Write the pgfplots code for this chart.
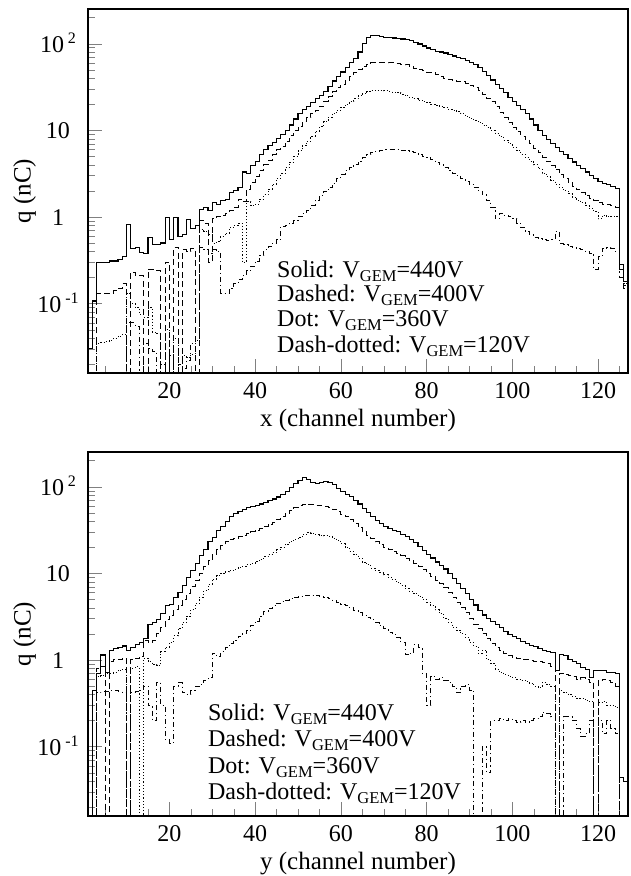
\documentclass[border=0pt]{standalone}
\usepackage{fontspec}
\setmainfont{Liberation Serif}
\usepackage{pgfplots}
\usepackage{pgfplotstable}
\pgfplotsset{compat=1.18}

\newcommand{\gem}{\raisebox{-4pt}{\fontsize{16.5}{16.5}\selectfont GEM}}
\newcommand{\rootsup}[1]{\,\raisebox{0.75ex}{\fontsize{16}{16}\selectfont #1}}
\newcommand{\legfont}{\fontsize{24}{24}\selectfont}

\pgfplotstableread{
x s d p dd
1 0.001 0.001 0.001 0.001
1 0.03 0.001 0.001 0.001
2 0.107 0.001 0.001 0.001
3 0.30 0.13 0.035 0.001
4 0.30 0.13 0.036 0.001
5 0.30 0.13 0.037 0.001
6 0.31 0.13 0.038 0.001
7 0.31 0.14 0.040 0.001
8 0.32 0.15 0.042 0.001
9 0.35 0.17 0.044 0.001
10 0.81 0.001 0.13 0.06
11 0.43 0.23 0.10 0.06
12 0.44 0.21 0.09 0.055
13 0.39 0.21 0.075 0.001
14 0.38 0.001 0.07 0.035
15 0.58 0.25 0.09 0.03
16 0.48 0.25 0.047 0.028
17 0.48 0.24 0.045 0.001
18 0.50 0.001 0.001 0.02
19 0.98 0.30 0.05 0.001
20 0.55 0.001 0.001 0.025
21 0.98 0.45 0.04 0.001
22 0.60 0.001 0.001 0.02
23 0.63 0.42 0.025 0.018
24 0.93 0.40 0.024 0.022
25 0.74 0.43 0.026 0.035
26 0.80 0.001 0.038 0.04
27 1.22 0.90 0.72 0.45
28 1.30 0.85 0.68 0.42
29 1.20 0.30 0.62 0.38
30 1.45 0.95 0.50 0.42
31 1.40 1.00 0.52 0.40
32 1.55 1.05 0.60 0.13
33 1.60 1.10 0.65 0.13
34 1.90 1.20 0.75 0.15
35 2.00 1.30 0.80 0.17
36 2.20 1.60 0.85 0.19
37 3.30 1.50 0.30 0.21
38 3.20 2.10 1.50 0.24
39 3.90 2.50 1.35 0.27
40 4.40 2.90 1.40 0.31
41 5.20 3.40 1.60 0.36
42 6.00 4.00 1.80 0.42
43 6.60 4.50 2.10 0.46
44 7.20 5.20 2.40 0.50
45 8.00 6.00 2.80 0.55
46 8.90 6.50 3.20 0.78
47 10.0 7.50 3.70 0.80
48 11.5 8.70 4.30 0.85
49 13.5 10.0 5.00 0.92
50 15.5 11.0 5.80 1.00
51 17.5 12.5 6.60 1.10
52 19.0 14.0 7.50 1.20
53 21.0 15.5 8.60 1.35
54 23.0 17.0 9.80 1.55
55 25.0 19.0 11.0 1.75
56 28.0 21.5 12.5 1.95
57 32.0 24.5 14.0 2.20
58 37.0 28.0 15.5 2.45
59 42.0 31.0 17.0 2.75
60 47.0 34.0 18.5 3.10
61 53.0 38.0 20.0 3.40
62 60.0 42.0 21.5 3.70
63 67.0 47.0 23.0 4.00
64 80.0 51.0 25.0 4.40
65 100 55.0 26.5 4.80
66 118 58.0 28.0 5.20
67 123 60.0 28.7 5.50
68 123 61.0 29.0 5.70
69 120 61.0 28.8 5.90
70 118 61.0 28.5 6.00
71 117 60.0 28.0 6.00
72 116 60.0 27.5 6.00
73 114 59.0 27.0 6.00
74 113 58.0 26.0 5.90
75 111 57.0 25.0 5.80
76 108 55.0 24.0 5.70
77 104 52.0 23.0 5.60
78 99 50.0 22.3 5.30
79 94 48.5 21.5 5.00
80 89 47.0 21.0 4.80
81 85 46.0 20.0 4.60
82 82 44.0 19.5 4.30
83 80 42.0 19.0 4.00
84 78 40.0 18.3 3.70
85 75 39.0 17.5 3.40
86 72 38.0 17.0 3.20
87 70 37.0 16.3 3.00
88 67 36.5 15.5 2.80
89 64 35.0 14.6 2.60
90 61 33.0 13.8 2.40
91 57 31.0 13.0 2.20
92 53 29.0 12.3 2.00
93 48 26.0 11.5 1.80
94 43 23.5 10.8 1.55
95 38 21.5 10.0 1.30
96 34 19.0 9.2 0.95
97 30 16.0 8.4 1.10
98 27 14.0 7.7 1.05
99 24 12.3 7.0 1.00
100 21.5 10.8 6.4 0.95
101 19.5 9.6 5.8 0.85
102 17.5 8.6 5.3 0.75
103 15.5 7.8 4.8 0.68
104 13.5 7.0 4.4 0.62
105 11.5 6.2 4.0 0.58
106 10.0 5.5 3.6 0.56
107 8.8 4.9 3.2 0.55
108 7.8 4.4 2.9 0.54
109 7.0 3.9 2.65 0.55
110 6.3 3.5 2.4 0.68
111 5.7 3.1 2.2 0.50
112 5.2 2.8 2.0 0.48
113 4.7 2.5 1.85 0.46
114 4.3 2.25 1.7 0.44
115 3.9 2.05 1.55 0.43
116 3.6 1.9 1.45 0.42
117 3.3 1.75 1.35 0.40
118 3.0 1.65 1.25 0.38
119 2.75 1.55 1.15 0.25
120 2.55 1.45 0.95 0.35
121 2.45 1.40 1.05 0.43
122 2.35 1.38 1.00 0.44
123 2.25 1.35 1.02 0.43
124 2.15 1.30 1.00 0.40
125 0.28 0.25 0.28 0.20
126 0.18 0.15 0.17 0.16
127 0.18 0.15 0.17 0.16
127 0.001 0.001 0.001 0.001
}\topdata

\pgfplotstableread{
x s d p dd
1 0.001 0.001 0.001 0.001
2 0.44 0.001 0.001 0.001
3 0.70 0.80 0.64 0.42
4 1.14 0.85 0.66 0.43
5 0.72 0.001 0.70 0.43
6 1.30 0.95 0.70 0.44
7 1.35 1.00 0.72 0.44
8 1.40 1.02 0.76 0.43
9 1.45 1.05 0.78 0.42
10 1.28 0.001 0.001 0.001
11 1.40 1.00 0.80 0.42
12 1.50 1.05 0.83 0.43
13 1.60 1.10 0.001 0.45
14 1.75 1.70 1.05 0.50
15 2.55 1.60 0.95 0.30
16 2.70 1.70 0.88 0.20
17 2.90 2.00 0.86 0.55
18 3.40 2.40 1.25 0.30
19 4.20 2.90 1.40 0.12
20 4.40 3.30 1.60 0.11
21 5.30 3.80 1.90 0.50
22 6.00 4.30 2.30 0.55
23 7.30 5.00 2.70 0.42
24 9.00 5.80 3.20 0.40
25 10.8 7.00 3.80 0.45
26 13.0 8.30 4.50 0.50
27 16.0 10.0 5.30 0.52
28 19.0 12.0 6.30 0.58
29 23.0 14.0 7.50 0.62
30 26.0 16.5 8.60 1.20
31 31.0 19.0 9.40 1.10
32 35.0 21.0 10.0 1.25
33 40.0 23.0 10.4 1.40
34 45.0 24.5 10.8 1.55
35 49.0 25.5 11.2 1.70
36 52.0 26.5 11.6 1.85
37 55.0 27.5 12.0 2.00
38 57.0 28.5 12.5 2.20
39 59.0 30.0 13.0 2.50
40 61.0 31.5 13.7 2.80
41 63.0 33.0 14.5 3.20
42 66.0 35.0 15.5 3.60
43 69.0 37.0 16.5 3.90
44 72.0 39.0 17.5 4.20
45 76.0 42.0 18.8 4.50
46 82.0 45.0 20.0 4.70
47 88.0 49.0 21.5 4.90
48 97.0 53.0 23.0 5.10
49 108 57.0 24.5 5.30
50 118 60.0 26.0 5.40
51 126 62.0 28.0 5.50
52 120 63.0 29.5 5.60
53 112 62.0 29.0 5.60
54 108 61.0 28.0 5.50
55 112 60.0 27.5 5.40
56 115 59.0 27.0 5.30
57 112 57.0 26.5 5.10
58 105 55.0 25.5 4.90
59 95 52.0 24.0 4.60
60 88 48.0 22.0 4.40
61 82 45.0 20.0 4.20
62 77 42.0 18.0 4.00
63 70 38.0 16.5 3.70
64 63 34.0 15.0 3.50
65 56 30.0 13.5 3.30
66 50 27.0 12.5 3.10
67 45 25.0 11.5 2.90
68 41 23.0 10.8 2.70
69 38 21.5 10.2 2.50
70 35 20.0 9.6 2.30
71 33 19.0 9.0 2.10
72 31.5 18.0 8.4 1.95
73 30 17.0 7.8 1.80
74 28 16.0 7.2 1.60
75 26.5 15.0 6.7 1.15
76 24.5 14.0 6.2 1.20
77 22.5 13.0 5.8 1.50
78 20.5 12.0 5.4 1.40
79 18.5 11.0 5.0 0.70
80 16.5 10.0 4.6 0.30
81 15.0 9.1 4.2 0.65
82 13.5 8.3 3.8 0.60
83 12.2 7.6 3.4 0.62
84 11.2 6.8 3.0 0.58
85 10.0 6.0 2.7 0.55
86 8.8 5.3 2.4 0.50
87 7.6 4.6 2.2 0.42
88 6.6 4.0 2.0 0.50
89 5.8 3.5 1.8 0.52
90 5.0 3.0 1.6 0.45
91 4.3 2.6 1.45 0.001
92 3.7 2.3 1.20 0.001
93 3.3 2.0 1.30 0.10
94 3.0 1.75 1.00 0.05
95 2.75 1.55 0.90 0.20
96 2.55 1.40 0.78 0.20
97 2.35 1.30 0.72 0.21
98 2.15 1.20 0.68 0.20
99 1.95 1.12 0.65 0.21
100 1.85 1.08 0.63 0.20
101 1.75 1.04 0.60 0.19
102 1.65 1.00 0.58 0.20
103 1.55 1.00 0.56 0.19
104 1.48 0.98 0.54 0.20
105 1.42 0.96 0.50 0.21
106 1.36 0.95 0.48 0.22
107 1.30 0.93 0.55 0.25
108 1.26 0.90 0.52 0.24
109 1.22 0.85 0.50 0.22
110 0.75 0.001 0.001 0.20
111 1.15 0.70 0.44 0.001
112 1.12 0.68 0.42 0.22
113 1.00 0.66 0.40 0.22
114 0.95 0.64 0.38 0.20
115 0.90 0.60 0.36 0.16
116 0.82 0.62 0.36 0.13
117 0.78 0.60 0.34 0.14
118 0.62 0.55 0.33 0.20
119 0.76 0.001 0.001 0.001
120 0.76 0.58 0.32 0.20
121 0.76 0.60 0.33 0.14
122 0.72 0.58 0.30 0.20
123 0.72 0.55 0.30 0.16
124 0.70 0.50 0.28 0.14
125 0.044 0.001 0.001 0.001
126 0.040 0.001 0.001 0.001
127 0.040 0.001 0.001 0.001
127 0.001 0.001 0.001 0.001
}\botdata

\pgfplotsset{
  every axis/.append style={
    width=540pt, height=364pt, scale only axis,
    xmin=1, xmax=127, ymin=0.0158, ymax=251,
    axis line style={line width=1.8pt},
    major tick length=14pt, minor tick length=7pt,
    tick align=inside,
    xtick pos=bottom, ytick pos=left,
    xtick={20,40,60,80,100,120},
    xticklabels={20,40,60,80,100,120},
    minor xtick={5,10,15,25,30,35,45,50,55,65,70,75,85,90,95,105,110,115,125},
    ytick={0.1,1,10,100},
    yticklabels={10\rootsup{-1},1,10,10\rootsup{2}},
    minor ytick={0.02,0.03,0.04,0.05,0.06,0.07,0.08,0.09,0.2,0.3,0.4,0.5,0.6,0.7,0.8,0.9,2,3,4,5,6,7,8,9,20,30,40,50,60,70,80,90,200},
    xticklabel style={font=\legfont, anchor=base, yshift=-25pt},
    yticklabel style={font=\legfont, anchor=base, xshift=-30pt, yshift=-8.5pt},
    ylabel={q (nC)},
    ylabel style={at={(rel axis cs:-0.1176,0.5)}, anchor=center, rotate=0, font=\fontsize{25}{25}\selectfont},
    xlabel style={at={(rel axis cs:0.5,0)}, anchor=base, yshift=-53pt, font=\fontsize{25}{25}\selectfont},
  },
}

\begin{document}
\begin{tikzpicture}
\useasboundingbox (0,0) rectangle (630pt,-876pt);
\begin{semilogyaxis}[at={(88pt,-373pt)}, anchor=south west, xlabel={x (channel number)}]
\addplot[const plot, black, line width=1.1pt] table[x=x,y=s]{\topdata};
\addplot[const plot, black, line width=0.9pt, dash pattern=on 6pt off 3.5pt] table[x=x,y=d]{\topdata};
\addplot[const plot, black, line width=0.9pt, dash pattern=on 1.2pt off 2pt] table[x=x,y=p]{\topdata};
\addplot[const plot, black, line width=0.9pt, dash pattern=on 5pt off 3pt on 1.2pt off 3pt] table[x=x,y=dd]{\topdata};
\node[anchor=base west, inner sep=0pt, font=\legfont] at (rel axis cs:0.35,0.2637) {Solid: V\gem=440V};
\node[anchor=base west, inner sep=0pt, font=\legfont] at (rel axis cs:0.35,0.1951) {Dashed: V\gem=400V};
\node[anchor=base west, inner sep=0pt, font=\legfont] at (rel axis cs:0.35,0.1264) {Dot: V\gem=360V};
\node[anchor=base west, inner sep=0pt, font=\legfont] at (rel axis cs:0.35,0.0577) {Dash-dotted: V\gem=120V};
\end{semilogyaxis}
\begin{semilogyaxis}[at={(88pt,-816pt)}, anchor=south west, xlabel={y (channel number)}]
\addplot[const plot, black, line width=1.1pt] table[x=x,y=s]{\botdata};
\addplot[const plot, black, line width=0.9pt, dash pattern=on 6pt off 3.5pt] table[x=x,y=d]{\botdata};
\addplot[const plot, black, line width=0.9pt, dash pattern=on 1.2pt off 2pt] table[x=x,y=p]{\botdata};
\addplot[const plot, black, line width=0.9pt, dash pattern=on 5pt off 3pt on 1.2pt off 3pt] table[x=x,y=dd]{\botdata};
\node[anchor=base west, inner sep=0pt, font=\legfont] at (rel axis cs:0.222,0.2637) {Solid: V\gem=440V};
\node[anchor=base west, inner sep=0pt, font=\legfont] at (rel axis cs:0.222,0.1896) {Dashed: V\gem=400V};
\node[anchor=base west, inner sep=0pt, font=\legfont] at (rel axis cs:0.222,0.1180) {Dot: V\gem=360V};
\node[anchor=base west, inner sep=0pt, font=\legfont] at (rel axis cs:0.222,0.0440) {Dash-dotted: V\gem=120V};
\end{semilogyaxis}
\end{tikzpicture}
\end{document}
